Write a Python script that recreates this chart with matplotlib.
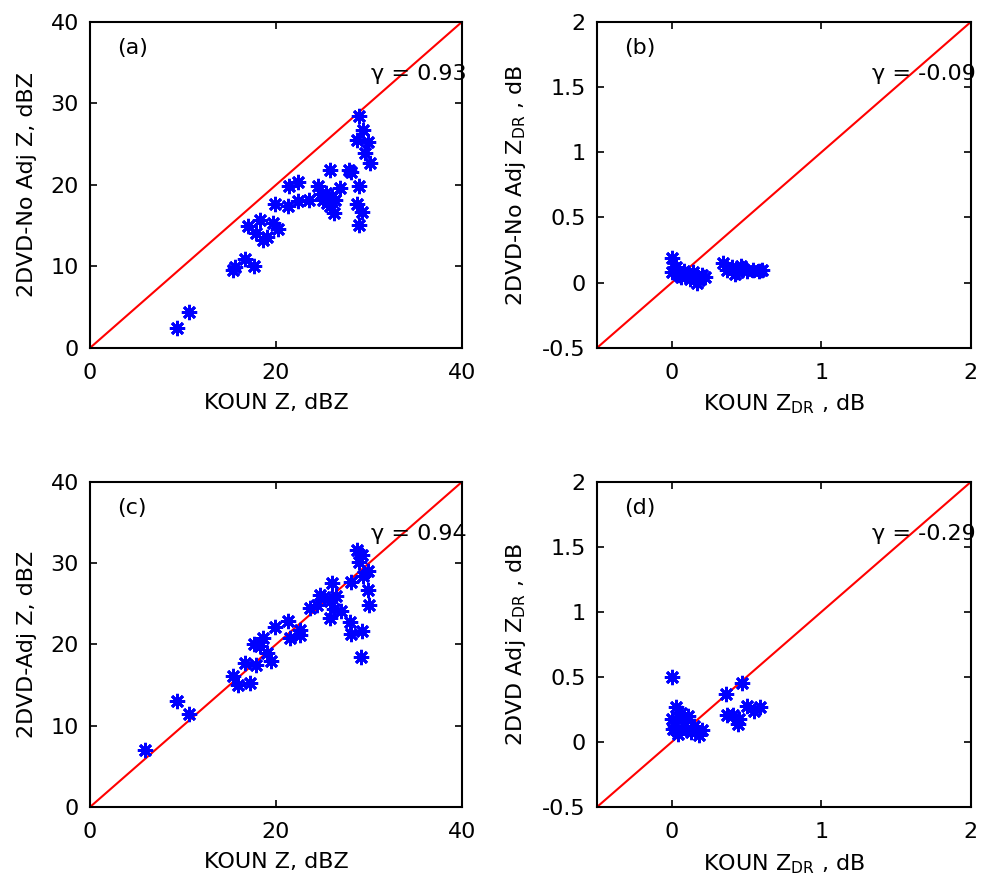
"""Scatter comparison of KOUN radar vs 2DVD-derived Z and ZDR (four panels)."""

import matplotlib

matplotlib.use("Agg")
import matplotlib.pyplot as plt

# panel (a): KOUN Z vs 2DVD (no adjustment) Z, dBZ
a_x = [9.4, 10.6, 15.4, 15.6, 16.7, 17.6, 17.0, 18.3, 18.6, 19.7, 20.2, 17.9,
       19.0, 19.9, 21.3, 21.4, 22.4, 22.4, 23.5, 24.5, 25.4, 25.8, 25.8, 26.2,
       25.1, 26.9, 27.8, 28.1, 28.9, 29.4, 28.7, 29.9, 29.6, 30.1, 28.9, 28.7,
       29.2, 28.9, 24.8, 26.3, 25.5, 26.0]
a_y = [2.4, 4.4, 9.6, 9.9, 10.9, 10.1, 15.0, 15.7, 13.2, 15.3, 14.6, 14.1,
       13.6, 17.6, 17.4, 19.9, 20.4, 18.0, 18.2, 19.8, 19.0, 21.8, 17.4, 16.5,
       18.2, 19.6, 21.8, 21.6, 28.4, 26.7, 25.5, 25.3, 23.9, 22.7, 19.8, 17.6,
       16.7, 15.1, 18.9, 18.1, 17.8, 18.5]

# panel (b): KOUN ZDR vs 2DVD (no adjustment) ZDR, dB
b_x = [0.00, 0.00, 0.02, 0.05, 0.08, 0.03, 0.06, 0.10, 0.12, 0.15, 0.18, 0.20,
       0.14, 0.22, 0.17, 0.34, 0.37, 0.40, 0.44, 0.47, 0.50, 0.54, 0.58, 0.60,
       0.42, 0.46]
b_y = [0.19, 0.08, 0.11, 0.06, 0.09, 0.12, 0.04, 0.07, 0.03, 0.05, 0.02, 0.06,
       0.08, 0.04, 0.00, 0.15, 0.10, 0.12, 0.08, 0.11, 0.09, 0.10, 0.09, 0.10,
       0.07, 0.13]

# panel (c): KOUN Z vs 2DVD (adjusted) Z, dBZ
c_x = [5.9, 9.4, 10.6, 15.4, 15.9, 17.2, 16.7, 17.6, 18.6, 18.3, 19.0, 17.9,
       19.5, 19.9, 21.3, 21.5, 22.6, 22.6, 23.7, 24.7, 26.0, 25.8, 26.2, 25.8,
       27.0, 28.1, 28.7, 29.2, 28.9, 29.9, 29.4, 29.9, 30.0, 28.0, 28.1, 29.2,
       29.1, 25.2, 26.5, 24.4]
c_y = [7.0, 13.0, 11.4, 16.1, 15.0, 15.2, 17.7, 20.1, 20.8, 19.8, 18.9, 17.5,
       17.9, 22.2, 22.9, 20.8, 21.8, 21.2, 24.5, 26.1, 27.5, 25.3, 24.3, 23.2,
       24.1, 27.7, 31.6, 31.0, 30.2, 29.0, 28.4, 26.7, 24.9, 22.8, 21.3, 21.6,
       18.5, 25.8, 26.0, 24.9]

# panel (d): KOUN ZDR vs 2DVD (adjusted) ZDR, dB
d_x = [0.00, 0.03, 0.02, 0.10, 0.13, 0.15, 0.06, 0.00, 0.04, 0.08, 0.18, 0.20,
       0.11, 0.01, 0.36, 0.47, 0.37, 0.41, 0.44, 0.50, 0.59, 0.55, 0.45]
d_y = [0.50, 0.27, 0.12, 0.10, 0.08, 0.12, 0.22, 0.18, 0.06, 0.15, 0.05, 0.09,
       0.20, 0.10, 0.37, 0.45, 0.21, 0.21, 0.14, 0.28, 0.27, 0.24, 0.18]

z_ticks_x = [0, 20, 40]
z_ticks_y = [0, 10, 20, 30, 40]
zdr_ticks_x = [0, 1, 2]
zdr_ticks_y = [-0.5, 0, 0.5, 1, 1.5, 2]

panels = [
    dict(x=a_x, y=a_y, lim=(0, 40), xt=z_ticks_x, yt=z_ticks_y,
         xl="KOUN Z, dBZ", yl="2DVD-No Adj Z, dBZ", tag="(a)", gamma="0.93",
         rect=[0.0915, 0.610, 0.378, 0.3655]),
    dict(x=b_x, y=b_y, lim=(-0.5, 2), xt=zdr_ticks_x, yt=zdr_ticks_y,
         xl=r"KOUN Z$_{\mathrm{DR}}$ , dB",
         yl=r"2DVD-No Adj Z$_{\mathrm{DR}}$ , dB",
         tag="(b)", gamma="-0.09", rect=[0.6067, 0.610, 0.380, 0.3655]),
    dict(x=c_x, y=c_y, lim=(0, 40), xt=z_ticks_x, yt=z_ticks_y,
         xl="KOUN Z, dBZ", yl="2DVD-Adj Z, dBZ", tag="(c)", gamma="0.94",
         rect=[0.0915, 0.0953, 0.378, 0.3645]),
    dict(x=d_x, y=d_y, lim=(-0.5, 2), xt=zdr_ticks_x, yt=zdr_ticks_y,
         xl=r"KOUN Z$_{\mathrm{DR}}$ , dB",
         yl=r"2DVD Adj Z$_{\mathrm{DR}}$ , dB",
         tag="(d)", gamma="-0.29", rect=[0.6067, 0.0953, 0.380, 0.3645]),
]

plt.rcParams.update({
    "font.family": ["DejaVu Sans"],
    "mathtext.fontset": "dejavusans",
    "xtick.direction": "in",
    "ytick.direction": "in",
    "xtick.top": True,
    "ytick.right": True,
})

fig = plt.figure(figsize=(9.84, 8.92), dpi=100)

for p in panels:
    ax = fig.add_axes(p["rect"])
    lo, hi = p["lim"]
    ax.plot([lo, hi], [lo, hi], color="red", lw=1.5, zorder=2)
    ax.plot(p["x"], p["y"], linestyle="none", marker=(8, 2, 0),
            markersize=11, markeredgewidth=2, color="blue", zorder=3)
    ax.set_xlim(lo, hi)
    ax.set_ylim(lo, hi)
    ax.set_xticks(p["xt"])
    ax.set_yticks(p["yt"])
    ax.set_xticklabels([f"{v:g}" for v in p["xt"]])
    ax.set_yticklabels([f"{v:g}" for v in p["yt"]])
    ax.tick_params(labelsize=16, length=5, width=1.2)
    ax.tick_params(axis="x", pad=11)
    ax.tick_params(axis="y", pad=8)
    for s in ax.spines.values():
        s.set_linewidth(1.5)
    ax.set_xlabel(p["xl"], fontsize=16, labelpad=7)
    ax.set_ylabel(p["yl"], fontsize=16, labelpad=10)
    ax.text(0.073, 0.92, p["tag"], fontsize=16, ha="left", va="center",
            transform=ax.transAxes)
    ax.text(1.012, 0.84, "γ = " + p["gamma"], fontsize=16, ha="right",
            va="center", transform=ax.transAxes)

fig.savefig("out.png", dpi=100)
